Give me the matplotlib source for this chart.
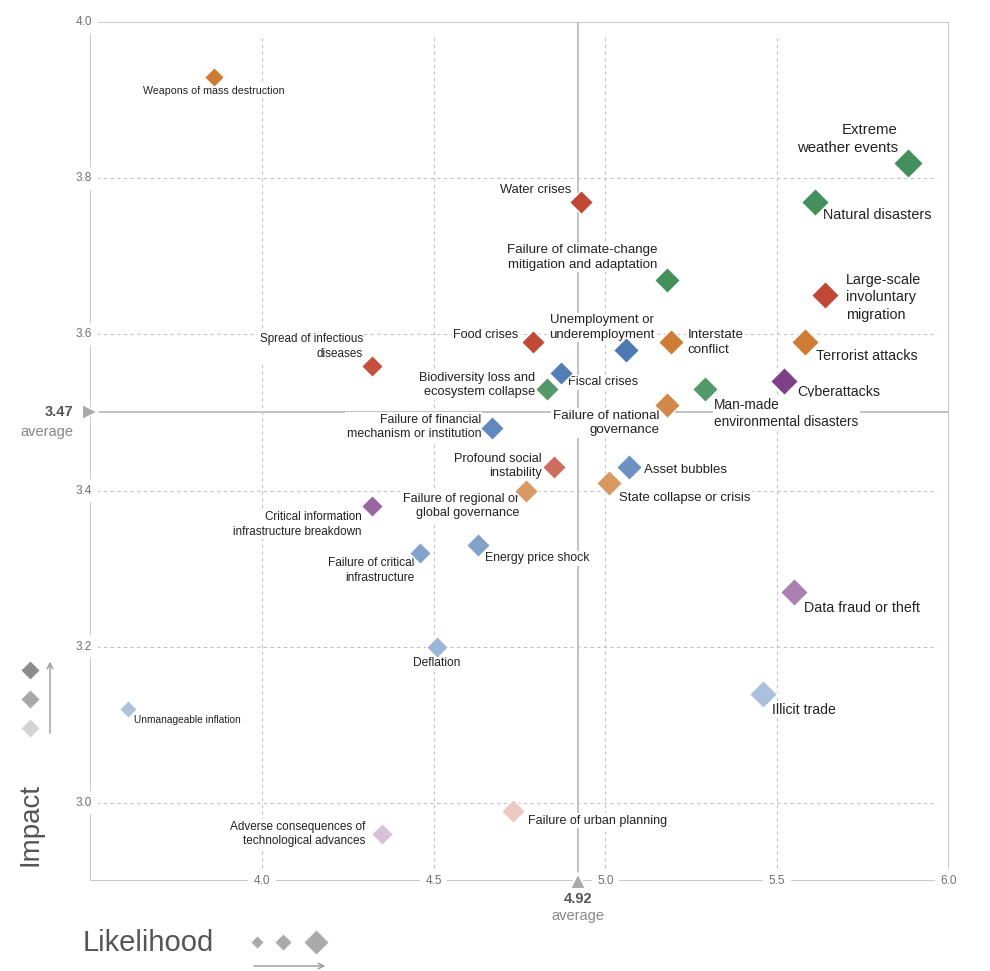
import matplotlib
matplotlib.use("Agg")
import matplotlib.pyplot as plt
import numpy as np

plt.rcParams['font.family'] = ['Liberation Sans', 'DejaVu Sans']

# risk data: likelihood (x), impact (y), category
risks = [
    "Weapons of mass destruction",
    "Extreme\nweather events",
    "Natural disasters",
    "Water crises",
    "Failure of climate-change\nmitigation and adaptation",
    "Large-scale\ninvoluntary\nmigration",
    "Food crises",
    "Unemployment or\nunderemployment",
    "Interstate\nconflict",
    "Terrorist attacks",
    "Spread of infectious\ndiseases",
    "Fiscal crises",
    "Biodiversity loss and\necosystem collapse",
    "Cyberattacks",
    "Man-made\nenvironmental disasters",
    "Failure of national\ngovernance",
    "Failure of financial\nmechanism or institution",
    "Profound social\ninstability",
    "Asset bubbles",
    "State collapse or crisis",
    "Failure of regional or\nglobal governance",
    "Critical information\ninfrastructure breakdown",
    "Energy price shock",
    "Failure of critical\ninfrastructure",
    "Data fraud or theft",
    "Deflation",
    "Illicit trade",
    "Unmanageable inflation",
    "Failure of urban planning",
    "Adverse consequences of\ntechnological advances",
]
likelihood = [3.86, 5.88, 5.61, 4.93, 5.18, 5.64, 4.79, 5.06, 5.19, 5.58,
              4.32, 4.87, 4.83, 5.52, 5.29, 5.18, 4.67, 4.85, 5.07, 5.01,
              4.77, 4.32, 4.63, 4.46, 5.55, 4.51, 5.46, 3.61, 4.73, 4.35]
impact = [3.93, 3.82, 3.77, 3.77, 3.67, 3.65, 3.59, 3.58, 3.59, 3.59,
          3.56, 3.55, 3.53, 3.54, 3.53, 3.51, 3.48, 3.43, 3.43, 3.41,
          3.40, 3.38, 3.33, 3.32, 3.27, 3.20, 3.14, 3.12, 2.99, 2.96]
category = ["geo", "env", "env", "soc", "env", "soc", "soc", "eco", "geo", "geo",
            "soc", "eco", "env", "tech", "env", "geo", "eco", "soc", "eco", "geo",
            "geo", "tech", "eco", "eco", "tech", "eco", "eco", "eco", "soc", "tech"]

avg_likelihood = 4.92
avg_impact = 3.47
avg_impact_line = 3.50  # the source draws its impact-average line here
x_ticks = [4.0, 4.5, 5.0, 5.5, 6.0]
y_ticks = [3.0, 3.2, 3.4, 3.6, 3.8, 4.0]

# style
base_colors = {
    "env": (68, 144, 92),
    "soc": (192, 72, 52),
    "eco": (72, 118, 178),
    "geo": (205, 122, 52),
    "tech": (118, 48, 128),
}

# label offsets in pixels (dx, dy), ha, va
label_pos = [
    (0, -9, "center", "top"),
    (-10, 8, "right", "bottom"),
    (8, -6, "left", "top"),
    (-10, 6, "right", "bottom"),
    (-10, 9, "right", "bottom"),
    (21, -2, "left", "center"),
    (-15, 7, "right", "center"),
    (28, 9, "right", "bottom"),
    (17, 0, "left", "center"),
    (11, -7, "left", "top"),
    (-9, 6, "right", "bottom"),
    (7, -3, "left", "top"),
    (-12, 4, "right", "center"),
    (13, -11, "left", "center"),
    (9, -9, "left", "top"),
    (-8, -5, "right", "top"),
    (-11, 1, "right", "center"),
    (-12, 1, "right", "center"),
    (15, -3, "left", "center"),
    (10, -15, "left", "center"),
    (-7, -2, "right", "top"),
    (-10, -5, "right", "top"),
    (7, -13, "left", "center"),
    (-5, -4, "right", "top"),
    (10, -16, "left", "center"),
    (0, -10, "center", "top"),
    (9, -16, "left", "center"),
    (6, -11, "left", "center"),
    (15, -10, "left", "center"),
    (-17, 0, "right", "center"),
]


def shade(cat, imp):
    a = np.clip((imp - 2.75) / 0.85, 0.3, 1.0)
    r, g, b = base_colors[cat]
    return tuple((a * c + (1 - a) * 255) / 255 for c in (r, g, b))


def diamond_ms(width_px):
    return width_px / 1.414 * 0.72 * 1.13


fig = plt.figure(figsize=(9.9, 9.71), dpi=100)
ax = fig.add_axes([90 / 990, 90 / 971, 859 / 990, 859 / 971])
ax.set_xlim(3.5, 6.0)
ax.set_ylim(2.9, 4.0)
ax.axis("off")

grid_kw = dict(color="#c2c2c2", lw=0.8, ls=(0, (3, 3)), zorder=1)
for x in x_ticks[:-1]:
    ax.plot([x, x], [2.9, 3.985], **grid_kw)
for y in y_ticks[:-1]:
    ax.plot([3.5, 5.965], [y, y], **grid_kw)

frame_kw = dict(color="#c4c4c4", lw=1.3, zorder=1, solid_capstyle="butt")
ax.plot([3.5, 3.5], [2.9, 4.0], **frame_kw)
ax.plot([3.5, 6.0], [2.9, 2.9], **frame_kw)
ax.plot([3.5, 6.0], [4.0, 4.0], **frame_kw)
ax.plot([6.0, 6.0], [2.9, 4.0], **frame_kw)

# averages
ax.plot([avg_likelihood, avg_likelihood], [2.9, 4.0], color="#bdbdbd", lw=1.3, zorder=1)
ax.plot([3.5, 6.0], [avg_impact_line, avg_impact_line], color="#bdbdbd", lw=1.3, zorder=1)

tick_bbox = dict(fc="white", ec="none", pad=4)
for y in y_ticks:
    ax.annotate(f"{y:.1f}", (3.5, y), xytext=(-6, 0), textcoords="offset pixels",
                ha="center", va="center", fontsize=8.5, color="#707070",
                bbox=tick_bbox, zorder=3, annotation_clip=False)
for x in x_ticks:
    ax.annotate(f"{x:.1f}", (x, 2.9), xytext=(0, 0), textcoords="offset pixels",
                ha="center", va="center", fontsize=8.5, color="#707070",
                bbox=tick_bbox, zorder=3, annotation_clip=False)

ax.plot(avg_likelihood, 2.9, marker="^", ms=11, color="#aaaaaa", mec="white", mew=1.5,
        clip_on=False, zorder=6)
ax.annotate(f"{avg_likelihood:.2f}", (avg_likelihood, 2.9), xytext=(0, -18),
            textcoords="offset pixels", ha="center", va="center", fontsize=10.5,
            fontweight="bold", color="#555", annotation_clip=False)
ax.annotate("average", (avg_likelihood, 2.9), xytext=(0, -35),
            textcoords="offset pixels", ha="center", va="center", fontsize=10.5,
            color="#888", annotation_clip=False)

ax.plot(3.5, avg_impact_line, marker=">", ms=11, color="#aaaaaa", mec="white", mew=1.5,
        clip_on=False, zorder=6)
ax.annotate(f"{avg_impact:.2f}", (3.5, avg_impact_line), xytext=(-17, 0),
            textcoords="offset pixels", ha="right", va="center", fontsize=10.5,
            fontweight="bold", color="#555", annotation_clip=False)
ax.annotate("average", (3.5, avg_impact_line), xytext=(-17, -20),
            textcoords="offset pixels", ha="right", va="center", fontsize=10.5,
            color="#888", annotation_clip=False)

# risks
for name, lx, iy, cat, (dx, dy, ha, va) in zip(risks, likelihood, impact, category, label_pos):
    w = 16 + (lx - 3.6) * 4.4
    ax.plot(lx, iy, marker="D", ms=diamond_ms(w), mfc=shade(cat, iy), mec="white",
            mew=1, ls="none", zorder=5)
    fs = 7.3 + (lx - 3.6) * 1.5
    ax.annotate(name, (lx, iy), xytext=(dx, dy), textcoords="offset pixels",
                ha=ha, va=va, multialignment=ha, fontsize=fs, color="#222",
                linespacing=1.3, zorder=4,
                bbox=dict(fc="white", ec="none", pad=1))

# legends in figure pixel space
ov = fig.add_axes([0, 0, 1, 1])
ov.set_xlim(0, 990)
ov.set_ylim(971, 0)
ov.axis("off")

for yy, c in zip([670, 699, 728], ["#8c8c8c", "#a8a8a8", "#d4d4d4"]):
    ov.plot(30, yy, marker="D", ms=diamond_ms(16), color=c, mec="none")
ov.annotate("", xy=(50, 659), xytext=(50, 736),
            arrowprops=dict(arrowstyle="->", color="#999", lw=1))
ov.text(31, 825, "Impact", rotation=90, fontsize=20, color="#555",
        ha="center", va="center")

ov.text(83, 943, "Likelihood", fontsize=21, color="#555", ha="left", va="center")
for xx, w in zip([257, 283, 316], [10, 15, 22]):
    ov.plot(xx, 942, marker="D", ms=diamond_ms(w), color="#aaaaaa", mec="none")
ov.annotate("", xy=(328, 966), xytext=(251, 966),
            arrowprops=dict(arrowstyle="->", color="#999", lw=1))

fig.savefig("out.png", dpi=100)
